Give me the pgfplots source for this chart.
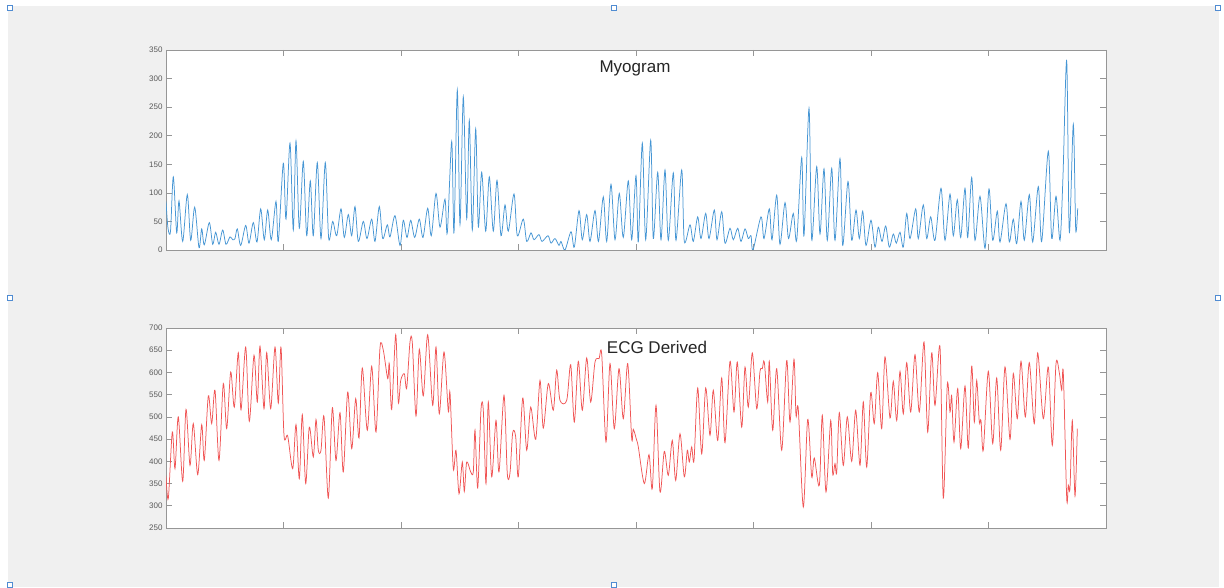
\documentclass[border=0pt]{standalone}
\usepackage{pgfplots}
\pgfplotsset{compat=1.18}
\usepackage{fontspec}
\setmainfont{Liberation Sans}
\definecolor{bgc}{RGB}{240,240,240}
\definecolor{myoblue}{RGB}{70,150,212}
\definecolor{ecgred}{RGB}{240,85,85}
\definecolor{axc}{RGB}{150,150,150}
\definecolor{tlc}{RGB}{90,90,90}
\definecolor{hdl}{RGB}{80,140,210}
\pgfplotsset{
  matlabax/.style={
    scale only axis, width=940pt, height=200pt,
    xmin=0, xmax=940, enlargelimits=false,
    xtick={0,117.5,235,352.5,470,587.5,705,822.5,940},
    xticklabels={},
    axis line style={axc, line width=0.7pt},
    major tick style={axc, line width=0.7pt},
    major tick length=6pt,
    tick align=inside,
    /pgf/number format/assume math mode=true,
    yticklabel style={font=\fontsize{8}{8}\selectfont, text=tlc},
    axis background/.style={fill=white},
  }
}
\begin{document}
\begin{tikzpicture}[x=1pt,y=1pt]
\path[use as bounding box] (0pt,0pt) rectangle (1224pt,587pt);
\fill[white] (0pt,0pt) rectangle (1224pt,587pt);
\fill[bgc] (8pt,0pt) rectangle (1219pt,581pt);
% selection handles
\foreach \hx/\hy in {10/579,614/579,1218/579,10/289,1218/289,10/2,614/2} {
  \draw[hdl, fill=white, line width=0.6pt] (\hx pt-2.5pt,\hy pt-2.5pt) rectangle (\hx pt+2.5pt,\hy pt+2.5pt);
}
\begin{axis}[matlabax, at={(166pt,337pt)}, anchor=south west,
  ymin=0, ymax=350, ytick={0,50,100,150,200,250,300,350}]
\addplot[myoblue, line width=0.75pt, smooth, tension=0.5] coordinates {
(0,85)(2,38)(4.5,33)(7.3,128)(10.7,30)(13,86)(16.7,15)(21.3,97)(24.7,17)(28.7,75)(33,4)(35.7,37)(38.3,9)(43.3,48)(46.7,10)(49.7,31)(53,10)(56.7,35)(60,10)(64,23)(66.7,18)(69,20)(71.3,37)(74.7,8)(79.7,43)(83,12)(87.3,48)(91,14)(94.7,72)(98.3,18)(101.7,70)(105.3,18)(110,85)(112.3,15)(117.3,152)(120,54)(124,187)(127.3,35)(130,191)(133.3,38)(137.3,155)(140.7,25)(144.3,121)(147.3,25)(151.3,153)(155,20)(159.3,153)(162.7,20)(166.7,50)(170.7,25)(175,72)(178.3,22)(182.3,62)(185.7,25)(189,76)(192.3,15)(197.3,50)(201,20)(205.7,54)(209,15)(213.3,76)(216.7,20)(221.3,44)(224,23)(229,60)(234,8)(237.3,52)(241,22)(244.7,52)(248.7,22)(253.3,54)(257,22)(261.7,73)(265.3,25)(270,99)(274,40)(279,89)(281.3,30)(285.7,190)(288,30)(291.3,280)(294,45)(297.3,268)(300.7,55)(303.3,227)(306.3,35)(309.7,212)(312.3,41)(315.7,136)(319.7,33)(323.3,128)(327.3,33)(331,122)(335,25)(339,79)(342.3,33)(348,98)(351.3,25)(357.3,54)(360.7,15)(365,30)(368,18)(373,27)(376,15)(382,25)(385,12)(389,20)(393,8)(395,15)(399,0)(405,32)(408.3,5)(413,69)(416.3,18)(420.7,62)(424,15)(429,69)(432.5,15)(437.3,93)(440.7,15)(445,115)(449,18)(453.3,99)(457.3,22)(462.3,121)(465.7,18)(470,130)(472.3,14)(476.3,187)(479.7,18)(484.7,192)(487.3,20)(491.7,136)(495,18)(499,140)(502.3,17)(507.3,135)(510,17)(515.7,140)(518.3,15)(524,44)(527.3,15)(531.7,58)(535,20)(539.7,64)(543,20)(548.3,70)(551,18)(555.7,67)(559,12)(564,38)(567.3,18)(571.7,38)(575,15)(579,37)(582.3,20)(585,25)(587,0)(595,58)(598,20)(603.3,72)(606,18)(610.7,96)(614,10)(619,83)(622.5,20)(627.3,64)(630.7,17)(635.7,162)(638,25)(643,248)(645.7,18)(650.7,146)(654,28)(658,142)(661.3,17)(665.7,143)(669,17)(674,160)(676.7,8)(682,120)(685.7,17)(690,70)(693.3,20)(696.7,68)(700,8)(705,52)(709,5)(712.3,40)(716,15)(719.7,42)(723.3,5)(727.3,28)(730.3,12)(734,31)(737.3,5)(740.7,64)(744,20)(749.7,72)(752.3,20)(757.3,79)(760.7,20)(764.7,58)(769,17)(775,108)(779,17)(784,98)(787.3,25)(791.3,88)(794.7,22)(799,108)(801.7,22)(805.7,127)(809,17)(814,94)(819,3)(823,107)(826.7,17)(831.3,68)(834,14)(840,81)(843.3,14)(847.3,54)(850.7,11)(855,85)(858.3,17)(863.3,97)(866.7,14)(872.3,111)(875.7,15)(882.3,173)(885.7,20)(890,94)(894,17)(897,130)(900.7,331)(903.3,31)(907.3,220)(909.7,36)(911.7,73)
};
\end{axis}
\begin{axis}[matlabax, at={(166pt,59pt)}, anchor=south west,
  ymin=250, ymax=700, ytick={250,300,350,400,450,500,550,600,650,700}]
\addplot[ecgred, line width=0.75pt, smooth, tension=0.5] coordinates {
(0,368)(2.3,316)(6.3,466)(9,383.5)(12.3,500)(16.7,355)(20,517)(24,391)(27.3,485)(31.7,370)(35.7,482.5)(38.3,402)(42.3,547)(45.7,485)(49,560)(53,402)(57.3,575)(60.7,473.5)(64.7,601)(68.3,522)(72.3,644.5)(75,516)(79.7,657)(83.3,490)(88,638.5)(91.3,533.5)(94,659)(98,518.5)(100.7,644.5)(104.7,518.5)(109,657)(112.3,531)(115,657)(118,458.5)(121.7,457)(126.7,383.5)(130,482.5)(133.3,361)(136.3,505)(139.7,350)(143.3,477)(147.3,410)(150,494)(152.3,425)(155,425)(158,501)(162.3,317.5)(166.3,520)(170,402)(174,509.5)(177.3,376)(181.7,556)(185.7,428.5)(189.7,541)(193,452.5)(196.3,610)(201.3,470)(205.7,614)(210,466)(214,656)(217.3,650)(221.7,586)(223.3,620)(225.7,517)(229.7,685)(232.3,533.5)(234.7,582)(238.3,597)(240.7,565)(244,668.5)(246.3,667)(250,502)(253.3,652)(257.3,547)(261.7,685)(266.7,526)(270,657)(273.3,507)(278,646)(282.3,512.5)(284,554.5)(287.3,383.5)(290,425)(293,327)(296.3,398.5)(298.3,332.5)(300.7,398.5)(304.7,376)(307.3,376)(309,470)(311.7,340)(315,517)(317.3,515)(320,350)(322.3,533.5)(325.7,365)(330,492)(333,376)(338,548.5)(341.3,372)(344,374)(346.7,464.5)(349.7,455)(352.3,365)(356.7,542.5)(360.7,425)(364.7,522)(369.7,449.5)(374,582)(377.3,475)(382.3,575)(387.3,515)(390.7,605)(394,537)(400.7,537)(404.7,617.5)(408.3,488.5)(412.3,625)(416.3,515)(420.7,632.5)(424.7,533.5)(429,623.5)(433,631)(435.7,641)(440,443.5)(444,620)(448.3,473.5)(453,608.5)(457.3,496)(461.7,620)(465.7,451)(467.3,472)(470.7,447)(472.3,432.5)(478.3,350)(483,415)(486.3,338.5)(490,526)(494,331)(498.3,422.5)(502.3,368.5)(506.3,447)(509.7,357)(514,462)(518.3,365)(521.3,425)(523.3,398.5)(525.7,432.5)(528,402)(531.7,565)(535.7,417)(539.7,565)(544,458.5)(547.3,560)(551.7,447)(555.7,587.5)(559,442)(564,625)(568,511)(571.3,623.5)(575.7,477)(579,612)(582.3,522)(586.3,644)(590.7,518.5)(594,602.5)(596.3,608.5)(598.3,623.5)(601.7,533.5)(603.3,625)(606.7,470)(610.7,608.5)(615.7,425)(620.7,627)(624,488.5)(628,629.5)(630,503.5)(632.3,517)(637.3,297)(641.7,494.5)(645.7,365)(648.3,407.5)(653.3,346)(656.3,503.5)(660,331)(664.7,492)(666.7,372)(669,395)(670.7,375)(673.3,509.5)(677.3,391)(681.3,500)(685.7,400)(689.7,515)(694,391)(697.3,533.5)(700.7,387)(704.7,554.5)(708.3,485)(711.7,599.5)(715.7,473.5)(719,635)(724,497.5)(727.3,580)(730.7,492)(734,602.5)(737.3,507)(740.7,622)(744.7,511)(749,640)(753.3,511)(758,668.5)(761.7,466)(765.7,644.5)(769,526)(774,657)(777.3,317.5)(781.3,572.5)(784,511)(785.7,547)(788,443.5)(791.7,563.5)(794.7,428.5)(799,569.5)(802.3,430)(805.7,614.5)(808.3,488.5)(810.7,582)(813.3,488.5)(815,492)(817.3,425)(822.3,602.5)(826.7,440)(830.7,587.5)(834.7,425)(839,612.5)(844,449.5)(847.3,597.5)(851.3,496)(855,625)(859.3,500)(863.3,622)(868.3,485)(871.7,644)(877.3,496)(882.3,612.5)(886.3,436)(890,620)(893.3,599.5)(895.7,560)(897.3,599.5)(900.7,317.5)(902.3,346)(904,340)(906.3,492)(909,322)(911.3,473.5)
};
\end{axis}
\node[font=\fontsize{17}{17}\selectfont, text={rgb,255:red,38;green,38;blue,38}] at (635pt,519pt) {Myogram};
\node[font=\fontsize{17}{17}\selectfont, text={rgb,255:red,38;green,38;blue,38}] at (657pt,240pt) {ECG Derived};
\end{tikzpicture}
\end{document}
